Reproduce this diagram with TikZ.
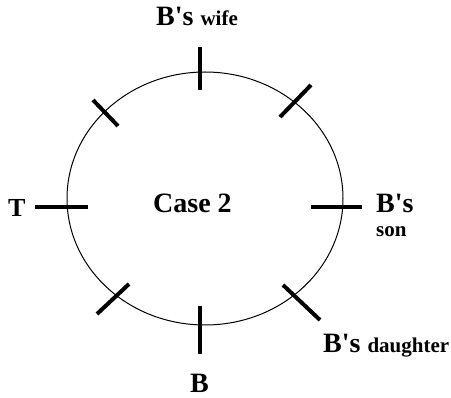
\documentclass[tikz,border=0pt]{standalone}
\usepackage{fontspec}
\setmainfont{Liberation Serif}
\usepackage{tikz}
\newcommand{\bigtxt}{\fontsize{28}{30}\selectfont}
\newcommand{\smalltxt}{\fontsize{21}{23}\selectfont}
\newcommand{\Bs}{B\textquotesingle s}
\tikzset{seat/.style={line width=4pt},
  lbl/.style={font=\bfseries\bigtxt, inner sep=0pt, anchor=base west}}

\begin{document}
\begin{tikzpicture}[x=1pt,y=-1pt]
    \useasboundingbox (0,0) rectangle (451,398);
    % the table
    \draw[line width=1pt] (205,198.5) ellipse [x radius=138pt, y radius=126.5pt];
    % the seats
    \draw[seat] (200,47) -- (200,90);
    \draw[seat] (280,117) -- (311,85);
    \draw[seat] (311,207) -- (362,207);
    \draw[seat] (283,285) -- (320,320);
    \draw[seat] (200,306) -- (200,354);
    \draw[seat] (97,314) -- (129,284);
    \draw[seat] (35,207) -- (88,207);
    \draw[seat] (93,100) -- (118,126);
    % who sits where
    \node[lbl] (W) at (156,26) {\Bs\ \smalltxt wife};
    \node[lbl] (S) at (376,213) {\Bs};
    \node[lbl, font=\bfseries\smalltxt] (S2) at (376,237) {son};
    \node[lbl] (D) at (323,353) {\Bs\ \smalltxt daughter};
    \node[lbl] (B) at (190,393) {B};
    \node[lbl, font=\bfseries\fontsize{26}{28}\selectfont] (T) at (8,217) {T};
    \node[lbl] (C) at (153,213) {Case 2};
\end{tikzpicture}
\end{document}
